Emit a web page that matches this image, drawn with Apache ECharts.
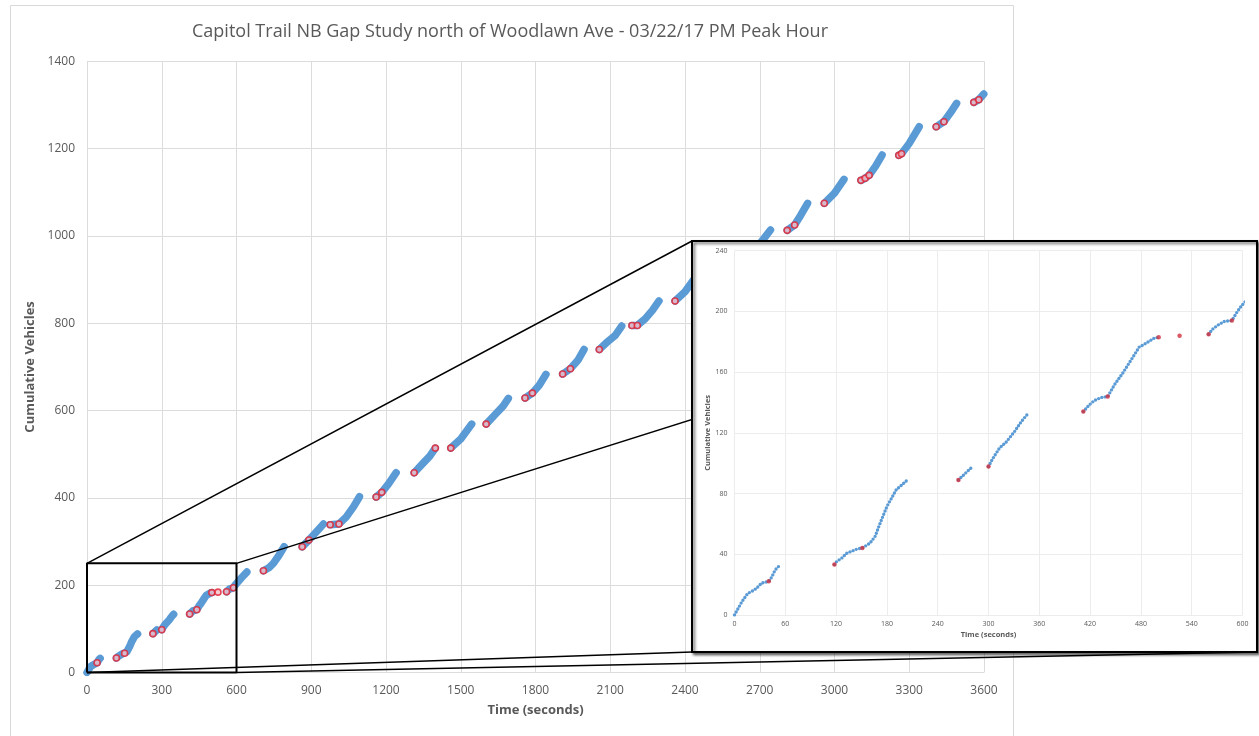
<!DOCTYPE html>
<html>
<head>
<meta charset="utf-8">
<script src="https://cdn.jsdelivr.net/npm/echarts@6.0.0/dist/echarts.min.js"></script>
<style>
  html, body { margin: 0; padding: 0; background: #fff; }
  #chart { width: 1259px; height: 736px; }
</style>
</head>
<body>
<div id="chart"></div>
<script>
// cumulative vehicles vs time, one polyline per platoon [seconds, vehicles]
var platoons = [
    [[0, 0], [4, 4], [9, 9], [15.7, 14.3], [20, 15.4], [26, 17.6], [32, 21], [40.5, 22.2], [44, 25], [48, 29.7], [52.7, 32.3]],
    [[118, 33.2], [120.6, 35.2], [126.5, 37.4], [132.5, 40.7], [144, 43.3], [151, 44.2], [160, 47.3], [166, 51.7], [172, 60.5], [180, 71.5], [191, 82.5], [203, 88.4]],
    [[264.5, 89], [272, 93], [280, 97.2]],
    [[300, 97.8], [305, 103], [313, 110], [321, 114], [330.8, 120.9], [338.7, 127.4], [347.7, 133.4]],
    [[412, 134], [419, 138.4], [425, 141.3], [433, 143.3], [440.8, 143.9], [448.7, 151.6], [458.5, 159.3], [468.4, 168], [478, 176.5], [486, 179], [495, 182.2], [501, 183]],
    [[560, 185], [564.6, 188.3], [571, 191], [578.4, 193.4], [587.5, 194], [594, 200], [599.3, 204], [620, 217], [641.6, 230]],
    [[708, 233], [730, 240], [748, 250], [770, 268], [791, 288]],
    [[863.6, 288], [890.5, 303.5], [920, 322], [949, 340]],
    [[976, 338.5], [1011, 340], [1040, 356], [1070, 380], [1093.6, 402.6]],
    [[1160.5, 402], [1183, 412.7], [1210, 432], [1240.7, 457.6]],
    [[1313, 457.6], [1350, 480], [1375, 495], [1398, 514]],
    [[1460, 514], [1500, 535], [1544, 569]],
    [[1602, 569], [1640, 592], [1670, 610], [1691, 628]],
    [[1758, 628.7], [1787.5, 640], [1815, 658], [1842, 683]],
    [[1909, 683.7], [1940, 695.8], [1970, 715], [1995, 740]],
    [[2056, 740], [2090, 758], [2120, 772], [2146, 793.6]],
    [[2187, 795], [2208.6, 795], [2240, 810], [2270, 830], [2295.6, 851]],
    [[2360, 851], [2400, 872], [2434, 899], [2450, 910]],
    [[2510, 912], [2550, 930], [2590, 955]],
    [[2660, 960], [2707, 987], [2743, 1013.5]],
    [[2810, 1012.8], [2840, 1025], [2865, 1048], [2892, 1074.7]],
    [[2959, 1074.7], [3000, 1098], [3038, 1129.6]],
    [[3106, 1127.3], [3123, 1132], [3139, 1138.8], [3165, 1160], [3191, 1185.3]],
    [[3258, 1184.6], [3269, 1188.3], [3300, 1212], [3340, 1250]],
    [[3408, 1250], [3439, 1261.6], [3465, 1282], [3490, 1303.7]],
    [[3559, 1306], [3579, 1312], [3599, 1325]]
];

// vehicles arriving after a gap
var gapVehicles = [
    [40.5, 22.2], [118, 33.2], [151, 44.2], [264.5, 89], [300, 97.8], [412, 134], [440.8, 143.9],
    [501, 183], [525.7, 184], [560, 185], [587.5, 194], [708, 233], [863.6, 288], [890.5, 303.5],
    [976, 338.5], [1011, 340], [1160.5, 402], [1183, 412.7], [1313, 457.6], [1398, 514], [1460, 514],
    [1602, 569], [1758, 628.7], [1787.5, 640], [1909, 683.7], [1940, 695.8], [2056, 740],
    [2187, 795], [2208.6, 795], [2360, 851], [2810, 1012.8], [2840, 1025], [2959, 1074.7],
    [3106, 1127.3], [3123, 1132], [3139, 1138.8], [3258, 1184.6], [3269, 1188.3],
    [3408, 1250], [3439, 1261.6], [3559, 1306], [3579, 1312]
];

var mainX = { min: 0, max: 3600, step: 300 };
var mainY = { min: 0, max: 1400, step: 200 };
var insetX = { min: 0, max: 600, step: 60 };
var insetY = { min: 0, max: 240, step: 40 };
var zoomT = [0, 600];
var zoomV = [0, 250];

var titleText = 'Capitol Trail NB Gap Study north of Woodlawn Ave - 03/22/17 PM Peak Hour';
var xName = 'Time (seconds)';
var yName = 'Cumulative Vehicles';

var FONT = '"Open Sans", sans-serif';
var insetBox = { x: 692, y: 241, w: 565, h: 411 };

var chart = echarts.init(document.getElementById('chart'));

function axis(range, name, o) {
    return {
        type: 'value',
        gridIndex: o.grid,
        min: range.min,
        max: range.max,
        interval: range.step,
        name: name,
        nameLocation: 'middle',
        nameGap: o.nameGap,
        nameTextStyle: { fontFamily: FONT, fontWeight: 'bold', fontSize: o.nameSize, color: '#595959' },
        axisLine: { show: false },
        axisTick: { show: false },
        axisLabel: {
            fontFamily: FONT, fontSize: o.labelSize, color: '#595959', margin: o.margin,
            formatter: function (v) { return String(v); }
        },
        splitLine: { show: true, lineStyle: { color: o.gridColor, width: 1 } },
        zlevel: o.zlevel,
        z: 1
    };
}

var series = [];
platoons.forEach(function (p) {
    series.push({
        type: 'line', xAxisIndex: 0, yAxisIndex: 0, data: p,
        symbol: 'none', silent: true, z: 2,
        lineStyle: { color: '#5b9bd5', width: 7.5, cap: 'round', join: 'round' }
    });
    series.push({
        type: 'line', xAxisIndex: 1, yAxisIndex: 1, data: p,
        symbol: 'none', silent: true, zlevel: 1, z: 3,
        lineStyle: { color: '#5b9bd5', width: 3.4, type: [0, 3.4], cap: 'round', join: 'round' }
    });
});
series.push({
    type: 'scatter', xAxisIndex: 0, yAxisIndex: 0, data: gapVehicles,
    symbol: 'circle', symbolSize: 6, silent: true, z: 4,
    itemStyle: { color: '#f4c2ca', borderColor: '#e3202f', borderWidth: 1.6 }
});
series.push({
    type: 'scatter', xAxisIndex: 1, yAxisIndex: 1, data: gapVehicles,
    symbol: 'circle', symbolSize: 4.5, silent: true, zlevel: 1, z: 4,
    itemStyle: { color: '#cf2f3d' }
});
// zoom rectangle on main plot
series.push({
    type: 'line', xAxisIndex: 0, yAxisIndex: 0, silent: true, z: 5,
    data: [[zoomT[0], zoomV[0]], [zoomT[1], zoomV[0]], [zoomT[1], zoomV[1]], [zoomT[0], zoomV[1]], [zoomT[0], zoomV[0]]],
    symbol: 'none', clip: false,
    lineStyle: { color: '#000', width: 2 }
});

var option = {
    animation: false,
    backgroundColor: '#fff',
    grid: [
        { left: 87, top: 61.3, width: 897, height: 611.2, containLabel: false, outerBoundsMode: 'none' },
        { left: 734.5, top: 250.7, width: 508, height: 364.3, containLabel: false, outerBoundsMode: 'none', zlevel: 1 }
    ],
    xAxis: [
        axis(mainX, xName, { grid: 0, nameGap: 31, nameSize: 13, labelSize: 12, margin: 12, gridColor: '#dcdcdc', zlevel: 0 }),
        axis(insetX, xName, { grid: 1, nameGap: 16, nameSize: 7.5, labelSize: 7, margin: 5, gridColor: '#ececec', zlevel: 1 })
    ],
    yAxis: [
        axis(mainY, yName, { grid: 0, nameGap: 41, nameSize: 13, labelSize: 12, margin: 12, gridColor: '#dcdcdc', zlevel: 0 }),
        axis(insetY, yName, { grid: 1, nameGap: 19, nameSize: 7.5, labelSize: 7, margin: 7, gridColor: '#ececec', zlevel: 1 })
    ],
    series: series,
    graphic: [
        {
            type: 'rect', shape: { x: 10.5, y: 5.5, width: 1003, height: 760 }, silent: true, z: -10,
            style: { fill: 'none', stroke: '#d9d9d9', lineWidth: 1 }
        },
        {
            type: 'text', x: 510, y: 32, silent: true,
            style: { text: titleText, fontFamily: FONT, fontSize: 18, fill: '#595959', textAlign: 'center', textVerticalAlign: 'middle' }
        },
        {
            type: 'rect', zlevel: 1, z: 0, silent: true,
            shape: { x: insetBox.x, y: insetBox.y, width: insetBox.w, height: insetBox.h },
            style: { fill: '#fff', stroke: '#000', lineWidth: 2, shadowBlur: 3, shadowOffsetX: 2, shadowOffsetY: 2, shadowColor: 'rgba(0,0,0,0.6)' }
        }
    ]
};
chart.setOption(option);

// connector lines from the zoom box corners to the inset frame corners
var tl = chart.convertToPixel({ gridIndex: 0 }, [zoomT[0], zoomV[1]]);
var tr = chart.convertToPixel({ gridIndex: 0 }, [zoomT[1], zoomV[1]]);
var bl = chart.convertToPixel({ gridIndex: 0 }, [zoomT[0], zoomV[0]]);
var br = chart.convertToPixel({ gridIndex: 0 }, [zoomT[1], zoomV[0]]);
var bx = insetBox.x, by = insetBox.y, bw = insetBox.w, bh = insetBox.h;
function connector(a, b) {
    return {
        type: 'line', silent: true, z: 6,
        shape: { x1: a[0], y1: a[1], x2: b[0], y2: b[1] },
        style: { stroke: '#000', lineWidth: 1.5 }
    };
}
option.graphic.push(
    connector(tl, [bx, by]),
    connector(tr, [bx + bw, by]),
    connector(bl, [bx, by + bh]),
    connector(br, [bx + bw, by + bh])
);
chart.setOption({ graphic: option.graphic });
</script>
</body>
</html>
